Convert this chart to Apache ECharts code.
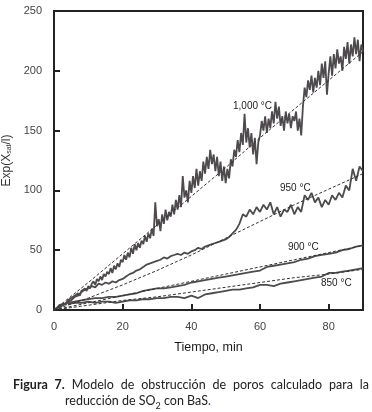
<!DOCTYPE html>
<html><head><meta charset="utf-8">
<script src="https://cdn.jsdelivr.net/npm/echarts@6/dist/echarts.min.js"></script>
<style>
html,body{margin:0;padding:0;background:#fff;}
#chart{position:absolute;left:0;top:0;width:372px;height:412px;}
#cap{position:absolute;left:13px;top:377px;width:356px;font-family:Lato,"Open Sans",sans-serif;font-size:12.5px;line-height:15.5px;color:#222;text-align:justify;padding-left:52px;text-indent:-52px;box-sizing:border-box;}
#cap b{font-weight:bold;}
</style>
</head><body>
<div id="chart"></div>
<div id="cap"><b>Figura 7.</b> Modelo de obstrucción de poros calculado para la reducción de SO<sub style="font-size:9px;line-height:0">2</sub> con BaS<span style="color:#2030d0">.</span></div>
<script>
// Experimental data (time in min)
const t1000Step = 0.5;
const exp1000 = [
0,1,2,4,3,5,6,5,8,7,
10,9,12,11,14,12,16,15,18,16,
20,18,22,24,21,26,24,28,25,30,
28,32,30,35,31,37,34,39,36,42,
40,46,42,48,44,52,47,55,50,56,
52,58,55,62,57,64,60,68,62,90,
70,76,66,80,72,84,75,82,78,88,
80,92,84,96,86,112,94,100,90,108,
98,112,102,118,104,116,108,124,114,128,
118,134,122,130,116,128,112,124,108,120,
106,118,110,126,120,134,128,142,132,148,
138,164,140,152,136,148,130,144,122,140,
146,158,150,162,148,160,152,166,156,174,
160,170,154,162,150,166,156,164,152,162,
158,166,150,160,146,170,186,178,192,184,
196,182,194,186,200,188,206,194,208,180,
198,212,196,214,202,218,206,212,200,220,
210,224,206,222,212,228,214,226,208,222,
216];
const t950Step = 1;
const exp950 = [
0,2,4,5,7,8,11,12,15,17,
18,20,19,22,21,23,22,24,23,25,
26,28,30,31,33,34,36,38,39,40,
41,42,44,43,45,46,47,46,48,47,
49,50,52,51,53,54,55,56,57,58,
59,61,64,67,72,80,78,84,80,86,
82,88,84,90,80,86,78,84,82,88,
80,86,82,96,92,98,90,94,86,92,
88,96,92,98,94,104,100,118,108,120,
116];
const time900 = [0,2,4,6,8,10,12,14,16,18,20,22,24,26,28,30,32,34,36,38,40,42,44,46,48,50,52,54,56,58,60,62,64,66,68,70,72,74,76,78,80,82,84,86,88,90];
const exp900 = [0,3,6,7,8,9,10,10,11,11,12,13,14,16,17,18,18,19,20,21,23,24,25,26,27,28,29,30,31,32,33,36,37,38,39,40,42,43,45,46,47,48,50,51,53,54];
const time850 = [4,6,8,10,12,14,16,18,20,22,24,26,28,30,32,34,36,38,40,42,44,46,48,50,52,54,56,58,60,62,64,66,68,70,72,74,76,78,80,82,84,86,88,90];
const exp850 = [5,6,6,7,6,7,7,6,7,8,8,9,9,10,10,11,11,10,12,10,13,14,15,16,17,17,18,19,21,21,20,22,23,24,25,26,27,28,31,31,32,33,34,35];
// Model (dashed)
const timeModel = [0,10,20,30,40,50,60,70,80,90];
const model1000 = [0,23,47,71,95,119,144,168,192,216];
const model950 = [0,10,21,33,46,60,74,88,101,114];
const model900 = [0,6,12,18,24,30,36,42,48,54];
const model850 = [0,4,8,11,15,19,23,27,30,34];
const seriesLabels = ['1,000 °C','950 °C','900 °C','850 °C'];
const yTicks = [0,50,100,150,200,250];
const xTicks = [0,20,40,60,80];

function pairStep(arr, step){ return arr.map((v,i)=>[i*step, v]); }
function pairs(xs, ys){ return xs.map((x,i)=>[x, ys[i]]); }

const chart = echarts.init(document.getElementById('chart'));
const expStyle = {color:'#4e4a4e', width:1.8};
const modStyle = {color:'#333', width:1, type:[3,2]};
const mk = (name, data, style) => ({name, type:'line', data, showSymbol:false, symbol:'none', lineStyle:style, z: style.type ? 3 : 2, animation:false});
chart.setOption({
  animation:false,
  grid:{left:54, right:9, top:11, bottom:102, show:true, borderColor:'#222', borderWidth:2, containLabel:false, outerBoundsMode:'none'},
  xAxis:{type:'value', min:0, max:90, interval:20,
    name:'Tiempo, min', nameLocation:'middle', nameGap:31,
    nameTextStyle:{fontFamily:'Liberation Sans', fontSize:12.5, color:'#1a1a1a'},
    axisLine:{lineStyle:{color:'#222', width:2}},
    axisTick:{inside:true, length:6, lineStyle:{color:'#222', width:2}},
    axisLabel:{showMaxLabel:false, margin:11, fontFamily:'Liberation Sans', fontSize:11, color:'#444'},
    splitLine:{show:false}},
  yAxis:{type:'value', min:0, max:250, interval:50,
    name:'Exp(X{s|sat}/l)', nameLocation:'middle', nameGap:38, nameRotate:90,
    nameTextStyle:{fontFamily:'Liberation Sans', fontSize:12, color:'#333', rich:{s:{fontSize:7, verticalAlign:'bottom', padding:[6,0,0,0], fontFamily:'Liberation Sans', color:'#333'}}},
    axisLine:{lineStyle:{color:'#222', width:2}},
    axisTick:{inside:true, length:6, lineStyle:{color:'#222', width:2}},
    axisLabel:{margin:12, fontFamily:'Liberation Sans', fontSize:11, color:'#444'},
    splitLine:{show:false}},
  series:[
    mk('e1000', pairStep(exp1000, t1000Step), expStyle),
    mk('e950', pairStep(exp950, t950Step), expStyle),
    mk('e900', pairs(time900, exp900), expStyle),
    mk('e850', pairs(time850, exp850), expStyle),
    mk('m1000', pairs(timeModel, model1000), modStyle),
    mk('m950', pairs(timeModel, model950), modStyle),
    mk('m900', pairs(timeModel, model900), modStyle),
    mk('m850', pairs(timeModel, model850), modStyle)
  ],
  graphic:[
    {type:'text', left:233, top:101, style:{text:seriesLabels[0], font:'10px "Liberation Sans"', fill:'#222'}},
    {type:'text', left:280, top:183, style:{text:seriesLabels[1], font:'10px "Liberation Sans"', fill:'#222'}},
    {type:'text', left:288, top:242, style:{text:seriesLabels[2], font:'10px "Liberation Sans"', fill:'#222'}},
    {type:'text', left:321, top:278, style:{text:seriesLabels[3], font:'10px "Liberation Sans"', fill:'#222'}}
  ]
});
</script>
</body></html>
